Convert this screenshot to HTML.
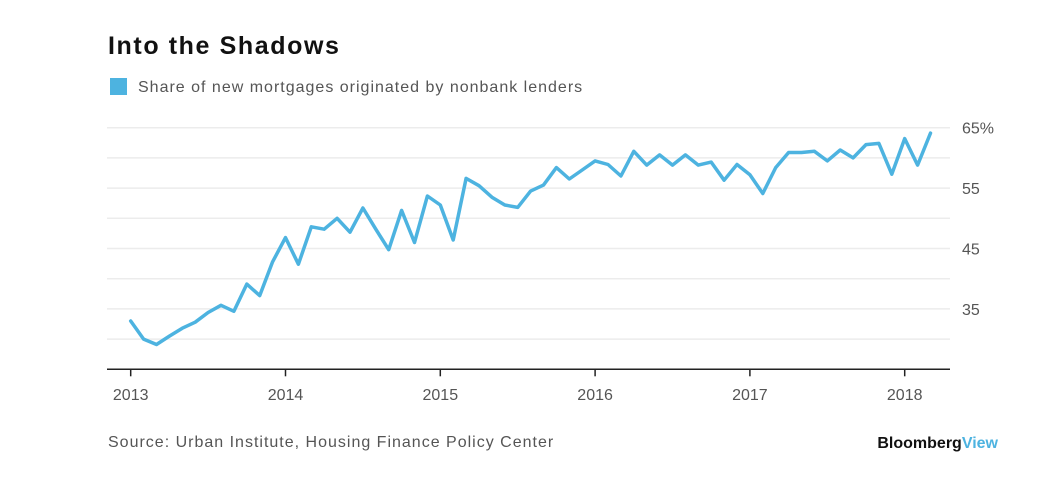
<!DOCTYPE html>
<html><head><meta charset="utf-8"><style>
body{margin:0;background:#fff;font-family:"Liberation Sans",sans-serif;}
svg{display:block}
</style></head><body>
<svg width="1064" height="491" viewBox="0 0 1064 491">
<text x="108" y="54" font-size="25" font-weight="bold" fill="#111" letter-spacing="1.6">Into the Shadows</text>
<rect x="110" y="78" width="17" height="17" fill="#4db3e0"/>
<text x="138" y="92" font-size="16" fill="#555" letter-spacing="1">Share of new mortgages originated by nonbank lenders</text>
<g id="grid"></g>
<g id="axis"></g>
<path id="line" fill="none" stroke="#4db3e0" stroke-width="3.5" stroke-linejoin="round" stroke-linecap="round"/>
<text x="108" y="447" font-size="16" fill="#555" letter-spacing="1">Source: Urban Institute, Housing Finance Policy Center</text>
<text x="998" y="448" font-size="16" font-weight="bold" text-anchor="end" fill="#111">Bloomberg<tspan fill="#4db3e0">View</tspan></text>
</svg>
<script>
const values = [33.0,30.0,29.1,30.5,31.8,32.8,34.4,35.6,34.6,39.1,37.2,42.8,
46.8,42.4,48.6,48.2,50.0,47.7,51.7,48.2,44.8,51.3,46.0,53.7,
52.2,46.4,56.6,55.4,53.5,52.2,51.8,54.5,55.5,58.4,56.5,58.0,
59.5,58.9,57.0,61.1,58.8,60.5,58.8,60.5,58.8,59.3,56.3,58.9,
57.2,54.1,58.4,60.9,60.9,61.1,59.5,61.3,60.0,62.2,62.4,57.3,
63.2,58.8,64.1];
const startYear = 2013;
const yearTicks = [2013,2014,2015,2016,2017,2018];
const yTicks = [65,55,45,35];
const gridVals = [65,60,55,50,45,40,35,30];
const NS="http://www.w3.org/2000/svg";
function xS(m){return 130.7 + m*(154.8/12);}
function yS(v){return 127.7 + (65-v)*6.04;}
const grid=document.getElementById('grid'), axis=document.getElementById('axis');
gridVals.forEach(v=>{
  const l=document.createElementNS(NS,'line');
  l.setAttribute('x1',107);l.setAttribute('x2',950);
  l.setAttribute('y1',yS(v));l.setAttribute('y2',yS(v));
  l.setAttribute('stroke','#ececec');l.setAttribute('stroke-width','1.5');
  
  
  grid.appendChild(l);
});
yTicks.forEach(v=>{
  const t=document.createElementNS(NS,'text');
  t.setAttribute('x',962);t.setAttribute('y',yS(v)+6);
  t.setAttribute('font-size','16');t.setAttribute('fill','#555');
  t.textContent = v===65 ? v+'%' : v;
  
  
  axis.appendChild(t);
});
const base=document.createElementNS(NS,'line');
base.setAttribute('x1',107);base.setAttribute('x2',950);
base.setAttribute('y1',yS(25));base.setAttribute('y2',yS(25));
base.setAttribute('stroke','#222');base.setAttribute('stroke-width','1.5');


axis.appendChild(base);
yearTicks.forEach(y=>{
  const x=xS((y-startYear)*12);
  const tk=document.createElementNS(NS,'line');
  tk.setAttribute('x1',x);tk.setAttribute('x2',x);
  tk.setAttribute('y1',yS(25));tk.setAttribute('y2',yS(25)+7);
  tk.setAttribute('stroke','#222');tk.setAttribute('stroke-width','1.5');
  
  
  axis.appendChild(tk);
  const t=document.createElementNS(NS,'text');
  t.setAttribute('x',x);t.setAttribute('y',400);
  t.setAttribute('text-anchor','middle');
  t.setAttribute('font-size','16');t.setAttribute('fill','#555');
  t.textContent=y;
  
  
  axis.appendChild(t);
});
document.getElementById('line').setAttribute('d',
  values.map((v,i)=>(i?'L':'M')+xS(i).toFixed(1)+','+yS(v).toFixed(1)).join(''));
</script>
</body></html>
